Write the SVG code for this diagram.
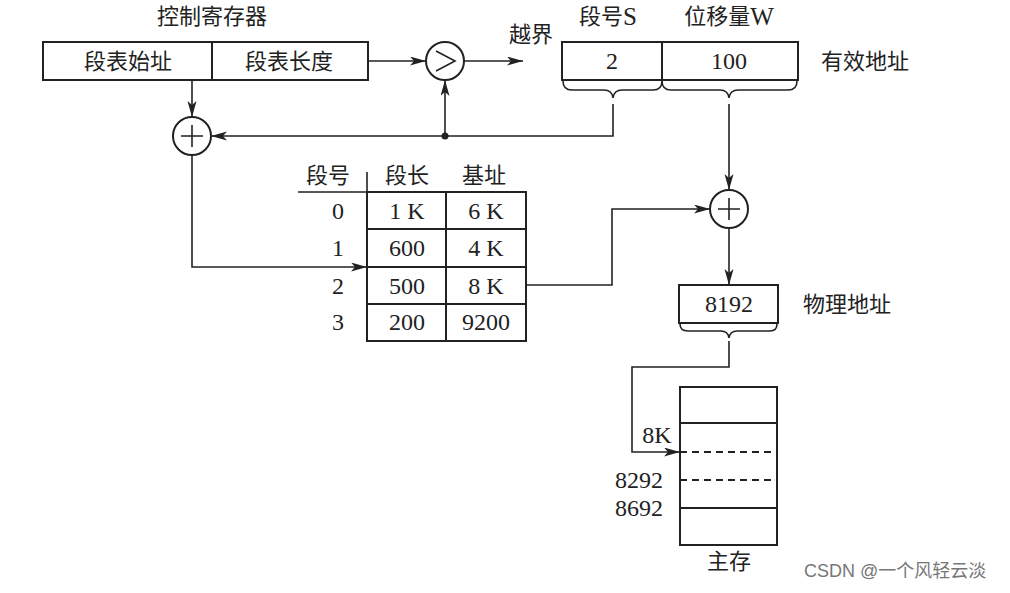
<svg xmlns="http://www.w3.org/2000/svg" width="1010" height="593" viewBox="0 0 1010 593">
<style>
.box{fill:none;stroke:#222;stroke-width:2}
.ln{fill:none;stroke:#222;stroke-width:1.6}
.dash{fill:none;stroke:#222;stroke-width:2;stroke-dasharray:7,5}
text{font-family:"Liberation Serif","Noto Sans CJK SC",serif;fill:#222;text-anchor:middle;dominant-baseline:central}
.cn{font-size:22px}
.num{font-size:24px}
.wm{font-family:"Liberation Sans","Noto Sans CJK SC",sans-serif;font-size:18px;fill:#777;text-anchor:start}
</style>
<defs>
<marker id="ah" markerUnits="userSpaceOnUse" markerWidth="18" markerHeight="10" refX="16" refY="4.5" orient="auto">
<path d="M0,0 L16,4.5 L0,9 L4,4.5 z" fill="#222"/>
</marker>
</defs>

<g id="control-register">
<text class="cn" x="212" y="16">控制寄存器</text>
<rect class="box" x="43" y="42" width="325" height="38" fill="#fff"/>
<line class="box" x1="212" y1="42" x2="212" y2="80"/>
<text class="cn" x="128" y="61">段表始址</text>
<text class="cn" x="289" y="61">段表长度</text>
</g>

<g id="comparator">
<circle class="box" cx="445" cy="61" r="19"/>
<path class="ln" d="M436,51 L455,61 L436,71"/>
</g>

<g id="overflow-label">
<text class="cn" x="531" y="34">越界</text>
</g>

<g id="adder1">
<circle class="box" cx="192" cy="136" r="19"/>
<path class="ln" d="M181,136 H203 M192,125 V147"/>
</g>

<g id="effective-address">
<text class="cn" x="608" y="16">段号<tspan font-size="25">S</tspan></text>
<text class="cn" x="729" y="16">位移量<tspan font-size="25">W</tspan></text>
<rect class="box" x="562" y="42" width="236" height="38"/>
<line class="box" x1="662" y1="42" x2="662" y2="80"/>
<text class="num" x="612" y="61">2</text>
<text class="num" x="729" y="61">100</text>
<text class="cn" x="865" y="61">有效地址</text>
<path class="ln" d="M563,81 Q563,90 572,90 L604,90 Q612,90 613,98 Q614,90 622,90 L653,90 Q662,90 662,81"/>
<path class="ln" d="M662,81 Q662,90 671,90 L720,90 Q728,90 729,98 Q730,90 738,90 L788,90 Q797,90 797,81"/>
</g>

<g id="segment-table">
<text class="cn" x="328" y="175">段号</text>
<text class="cn" x="407" y="175">段长</text>
<text class="cn" x="484" y="175">基址</text>
<line class="ln" x1="298" y1="192" x2="367" y2="192"/>
<line class="ln" x1="367" y1="172" x2="367" y2="192"/>
<rect class="box" x="367" y="192" width="159" height="149"/>
<line class="box" x1="446" y1="192" x2="446" y2="341"/>
<line class="box" x1="367" y1="229" x2="526" y2="229"/>
<line class="box" x1="367" y1="267" x2="526" y2="267"/>
<line class="box" x1="367" y1="304" x2="526" y2="304"/>
<text class="num" x="338" y="211">0</text>
<text class="num" x="338" y="248">1</text>
<text class="num" x="338" y="286">2</text>
<text class="num" x="338" y="322">3</text>
<text class="num" x="407" y="211">1 K</text>
<text class="num" x="407" y="248">600</text>
<text class="num" x="407" y="286">500</text>
<text class="num" x="407" y="322">200</text>
<text class="num" x="486" y="211">6 K</text>
<text class="num" x="486" y="248">4 K</text>
<text class="num" x="486" y="286">8 K</text>
<text class="num" x="486" y="322">9200</text>
</g>

<g id="adder2">
<circle class="box" cx="729" cy="209" r="19"/>
<path class="ln" d="M718,209 H740 M729,198 V220"/>
</g>

<g id="physical-address">
<rect class="box" x="679" y="285" width="99" height="38"/>
<text class="num" x="729" y="304">8192</text>
<text class="cn" x="847" y="304">物理地址</text>
<path class="ln" d="M680,324 Q680,331 688,331 L721,331 Q728,331 729,338 Q730,331 737,331 L770,331 Q777,331 777,324"/>
</g>

<g id="main-memory">
<rect class="box" x="680" y="387" width="97" height="158"/>
<line class="box" x1="680" y1="423" x2="777" y2="423"/>
<line class="dash" x1="680" y1="452" x2="777" y2="452"/>
<line class="dash" x1="680" y1="480" x2="777" y2="480"/>
<line class="box" x1="680" y1="508" x2="777" y2="508"/>
<text class="num" x="657" y="435">8K</text>
<text class="num" x="639" y="480">8292</text>
<text class="num" x="639" y="508">8692</text>
<text class="cn" x="729" y="561">主存</text>
</g>

<g id="connectors">
<path class="ln" d="M368,61 H426" marker-end="url(#ah)"/>
<path class="ln" d="M464,61 H523" marker-end="url(#ah)"/>
<path class="ln" d="M192,80 V117" marker-end="url(#ah)"/>
<path class="ln" d="M613,104 V136 H211" marker-end="url(#ah)"/>
<path class="ln" d="M445,136 V80" marker-end="url(#ah)"/>
<circle cx="445" cy="136" r="3.5" fill="#222"/>
<path class="ln" d="M192,155 V267 H367" marker-end="url(#ah)"/>
<path class="ln" d="M526,285 H612 V209 H710" marker-end="url(#ah)"/>
<path class="ln" d="M729,104 V190" marker-end="url(#ah)"/>
<path class="ln" d="M729,228 V285" marker-end="url(#ah)"/>
<path class="ln" d="M729,341 V367 H632 V452 H680" marker-end="url(#ah)"/>
</g>

<text class="wm" x="804" y="571">CSDN @一个风轻云淡</text>
</svg>
